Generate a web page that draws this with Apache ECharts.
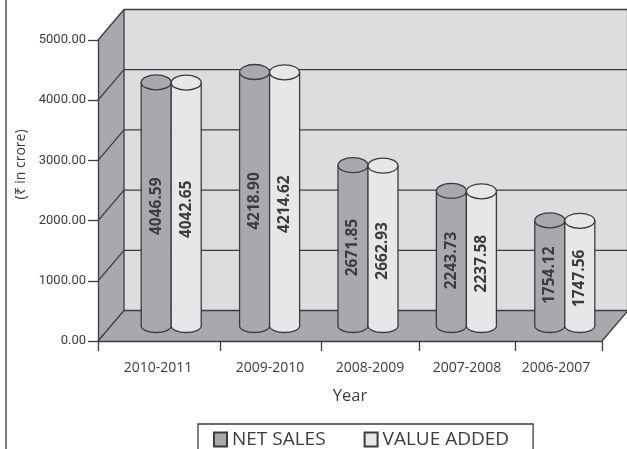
<!DOCTYPE html>
<html>
<head>
<meta charset="utf-8">
<style>html,body{margin:0;padding:0;background:#fff}#c{width:627px;height:449px}</style>
<script src="https://cdn.jsdelivr.net/npm/echarts@6/dist/echarts.min.js"></script>
</head>
<body>
<div id="c"></div>
<script>
const categories = ['2010-2011', '2009-2010', '2008-2009', '2007-2008', '2006-2007'];
const netSales = [4046.59, 4218.90, 2671.85, 2243.73, 1754.12];
const valueAdded = [4042.65, 4214.62, 2662.93, 2237.58, 1747.56];
const valueTicks = [0, 1000, 2000, 3000, 4000, 5000];
const seriesNames = ['NET SALES', 'VALUE ADDED'];

const INK = '#3c3c3e', DARK = '#a7a9ac', WALL = '#dcddde', LIGHT = '#e6e7e8';
const DX = 26, DY = -30.5;            // depth of the 3D box
const AXIS_SPAN = 504;
const TICK_AT = [0, 122, 223, 321, 417, 504];
const LABEL_AT = [60, 172, 272, 369, 458];

const chart = echarts.init(document.getElementById('c'), null, {renderer: 'canvas'});

function cylinderItem(shift, fill) {
  return function (params, api) {
    const base = api.coord([api.value(0), 0]);
    const top = api.coord([api.value(0), api.value(1)]);
    const band = api.size([1, 0])[0];
    const w = band * 0.305, rx = w / 2, ry = 7.5;
    const cx = base[0] + shift * band;
    const line = {stroke: INK, lineWidth: 1.3, fill: 'none'};
    const midY = (base[1] + top[1]) / 2 + (shift > 0 ? 5 : 2);
    return {
      type: 'group',
      children: [
        {type: 'ellipse', shape: {cx: cx, cy: base[1], rx: rx, ry: ry - 1}, style: {fill: fill, stroke: INK, lineWidth: 1.3}},
        {type: 'rect', shape: {x: cx - rx, y: top[1], width: w, height: base[1] - top[1]}, style: {fill: fill}},
        {type: 'line', shape: {x1: cx - rx, y1: top[1], x2: cx - rx, y2: base[1]}, style: line},
        {type: 'line', shape: {x1: cx + rx, y1: top[1], x2: cx + rx, y2: base[1]}, style: line},
        {type: 'ellipse', shape: {cx: cx, cy: top[1], rx: rx, ry: ry}, style: {fill: fill, stroke: INK, lineWidth: 1.3}},
        {type: 'text', x: cx, y: midY, rotation: Math.PI / 2,
          style: {text: api.value(1).toFixed(2), textAlign: 'center', textVerticalAlign: 'middle',
            fill: INK, font: 'bold 15.5px "Open Sans"'}}
      ]
    };
  };
}

chart.setOption({
  animation: false,
  backgroundColor: '#fff',
  textStyle: {fontFamily: 'Open Sans', color: INK},
  grid: [
    {left: 98, right: 25, top: 40, bottom: 108},
    {left: 122, right: 13, top: 25, bottom: 123}
  ],
  xAxis: [
    {
      type: 'value', gridIndex: 0, min: 0, max: AXIS_SPAN, z: 2,
      name: 'Year', nameLocation: 'middle', nameGap: 47,
      nameTextStyle: {fontFamily: 'Open Sans', fontSize: 16.5, color: INK},
      splitLine: {show: false},
      axisLine: {show: true, lineStyle: {color: INK, width: 1.3}},
      axisTick: {show: true, length: 10, customValues: TICK_AT, lineStyle: {color: INK, width: 1.3}},
      axisLabel: {
        customValues: LABEL_AT, margin: 20, fontFamily: 'Open Sans', fontSize: 14, color: INK,
        formatter: v => categories[LABEL_AT.indexOf(v)]
      }
    },
    {type: 'category', gridIndex: 1, data: categories, show: false}
  ],
  yAxis: [
    {
      type: 'value', gridIndex: 0, min: 0, max: 5000, interval: 1000, z: 2,
      name: '(₹ in crore)', nameLocation: 'middle', nameGap: 70,
      nameTextStyle: {fontFamily: 'Open Sans', fontSize: 14, color: INK, padding: [0, 0, 0, 52]},
      splitLine: {show: false},
      axisLine: {show: true, lineStyle: {color: INK, width: 1.3}},
      axisTick: {show: true, length: 10, lineStyle: {color: INK, width: 1.3}},
      axisLabel: {
        margin: 12, fontFamily: 'Roboto', fontSize: 13, color: INK,
        formatter: v => v.toFixed(2)
      }
    },
    {type: 'value', gridIndex: 1, min: 0, max: 5000, show: false}
  ],
  legend: {
    left: 198, top: 424, orient: 'horizontal',
    data: seriesNames,
    itemWidth: 13, itemHeight: 14, itemGap: 38,
    padding: [6, 24, 30, 15],
    borderColor: INK, borderWidth: 1.3, backgroundColor: '#fff',
    icon: 'rect',
    textStyle: {fontFamily: 'Open Sans', fontSize: 19, color: INK}
  },
  series: [
    {
      type: 'custom', name: 'walls', xAxisIndex: 0, yAxisIndex: 0, z: 1, silent: true,
      data: [[0, 0]],
      encode: {x: 0, y: 1},
      renderItem(params, api) {
        const a = api.coord([0, 0]), b = api.coord([AXIS_SPAN, 0]);
        const c = api.coord([0, 5000]), d = api.coord([AXIS_SPAN, 5000]);
        const p = q => [q[0] + DX, q[1] + DY];
        const edge = {stroke: INK, lineWidth: 1.3};
        return {type: 'group', children: [
          {type: 'polygon', shape: {points: [p(c), p(d), p(b), p(a)]}, style: {fill: WALL}},
          {type: 'line', shape: {x1: p(d)[0] - 0.5, y1: p(d)[1], x2: p(b)[0] - 0.5, y2: p(b)[1]}, style: {stroke: DARK, lineWidth: 1.5}},
          {type: 'polygon', shape: {points: [a, c, p(c), p(a)]}, style: {fill: DARK}},
          {type: 'polygon', shape: {points: [a, b, p(b), p(a)]}, style: {fill: DARK}},
          {type: 'line', shape: {x1: p(a)[0], y1: p(a)[1], x2: p(c)[0], y2: p(c)[1]}, style: edge},
          {type: 'line', shape: {x1: b[0], y1: b[1], x2: p(b)[0], y2: p(b)[1]}, style: edge}
        ]};
      }
    },
    {
      type: 'custom', name: 'gridlines', xAxisIndex: 0, yAxisIndex: 0, z: 1, silent: true,
      data: valueTicks.map(v => [0, v]),
      encode: {x: 0, y: 1},
      renderItem(params, api) {
        const a = api.coord([0, api.value(1)]), b = api.coord([AXIS_SPAN, api.value(1)]);
        const s = {stroke: INK, lineWidth: 1.3};
        return {type: 'group', children: [
          {type: 'line', shape: {x1: a[0], y1: a[1], x2: a[0] + DX, y2: a[1] + DY}, style: s},
          {type: 'line', shape: {x1: a[0] + DX, y1: a[1] + DY, x2: b[0] + DX, y2: b[1] + DY}, style: s}
        ]};
      }
    },
    {
      type: 'custom', name: seriesNames[0], xAxisIndex: 1, yAxisIndex: 1, z: 3, silent: true,
      itemStyle: {color: DARK, borderColor: INK, borderWidth: 1.3},
      data: netSales.map((v, i) => [i, v]),
      encode: {x: 0, y: 1},
      renderItem: cylinderItem(-0.1525, DARK)
    },
    {
      type: 'custom', name: seriesNames[1], xAxisIndex: 1, yAxisIndex: 1, z: 3, silent: true,
      itemStyle: {color: LIGHT, borderColor: INK, borderWidth: 1.3},
      data: valueAdded.map((v, i) => [i, v]),
      encode: {x: 0, y: 1},
      renderItem: cylinderItem(0.1525, LIGHT)
    }
  ],
  graphic: [{
    type: 'line', shape: {x1: 6, y1: 0, x2: 6, y2: 449}, style: {stroke: '#58595b', lineWidth: 1.6}
  }]
});
</script>
</body>
</html>
